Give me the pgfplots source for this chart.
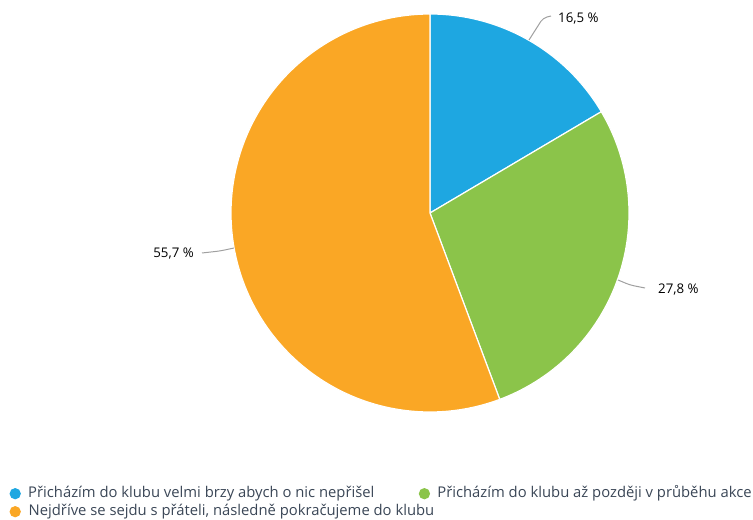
\documentclass[border=0pt]{standalone}
\usepackage{pgfplots}
\pgfplotsset{compat=1.18}
\usepackage{fontspec}
\setmainfont{Open Sans}
\definecolor{cblue}{RGB}{30,167,225}
\definecolor{cgreen}{RGB}{139,196,74}
\definecolor{corange}{RGB}{250,167,37}
\definecolor{ctext}{RGB}{58,70,86}
\definecolor{clead}{RGB}{160,160,160}
% data (percent)
\def\va{16.5}\def\vb{27.8}\def\vc{55.7}
\pgfmathsetmacro\aa{90}
\pgfmathsetmacro\ab{90-3.6*\va}
\pgfmathsetmacro\ac{\ab-3.6*\vb}
\pgfmathsetmacro\ad{\ac-3.6*\vc}
\begin{document}
\begin{tikzpicture}
\begin{axis}[width=753pt,height=519pt,scale only axis,
  xmin=0,xmax=753,ymin=0,ymax=519,hide axis,clip=false,
  legend columns=2,legend cell align=left,
  legend style={at={(axis cs:10,33)},anchor=north west,draw=none,fill=none,
    inner sep=0pt,font=\fontsize{14.8}{17}\selectfont\color{ctext},
    nodes={inner sep=0pt,text height=11pt,text depth=4pt},
    /tikz/every odd column/.append style={column sep=8pt},
    /tikz/every even column/.append style={column sep=45pt},
    row sep=3pt}]
\path (axis cs:0,0) rectangle (axis cs:753,519);
\addplot[fill=cblue,draw=white,line width=1.2pt,domain=\ab:\aa,samples=60,variable=\t,
  legend image code/.code={\draw[mark=*,mark size=5pt,mark options={draw=cblue,fill=cblue}] plot coordinates {(5pt,0pt)};}]
  ({430+199*cos(\t)},{306+199*sin(\t)}) -- (axis cs:430,306) -- cycle;
\addlegendentry{Přicházím do klubu velmi brzy abych o nic nepřišel}
\addplot[fill=cgreen,draw=white,line width=1.2pt,domain=\ac:\ab,samples=80,variable=\t,
  legend image code/.code={\draw[mark=*,mark size=5pt,mark options={draw=cgreen,fill=cgreen}] plot coordinates {(5pt,0pt)};}]
  ({430+199*cos(\t)},{306+199*sin(\t)}) -- (axis cs:430,306) -- cycle;
\addlegendentry{Přicházím do klubu až později v průběhu akce}
\addplot[fill=corange,draw=white,line width=1.2pt,domain=\ad:\ac,samples=150,variable=\t,
  legend image code/.code={\draw[mark=*,mark size=5pt,mark options={draw=corange,fill=corange}] plot coordinates {(5pt,0pt)};}]
  ({430+199*cos(\t)},{306+199*sin(\t)}) -- (axis cs:430,306) -- cycle;
\addlegendentry{\rlap{Nejdříve se sejdu s přáteli, následně pokračujeme do klubu}}
% leader lines and labels
\draw[clead,line width=1pt,rounded corners=4pt] (axis cs:529,479) -- (axis cs:543,501) -- (axis cs:551,503);
\node[anchor=west,inner sep=0pt,font=\fontsize{13.3}{15}\selectfont] at (axis cs:558,500) {16,5 \%};
\draw[clead,line width=1pt,rounded corners=4pt] (axis cs:618,239) -- (axis cs:630,234) -- (axis cs:645,231);
\node[anchor=west,inner sep=0pt,font=\fontsize{13.3}{15}\selectfont] at (axis cs:658,229) {27,8 \%};
\draw[clead,line width=1pt,rounded corners=4pt] (axis cs:234,271) -- (axis cs:220,268) -- (axis cs:202,266);
\node[anchor=east,inner sep=0pt,font=\fontsize{13.3}{15}\selectfont] at (axis cs:194,265) {55,7 \%};
\end{axis}
\end{tikzpicture}
\end{document}
